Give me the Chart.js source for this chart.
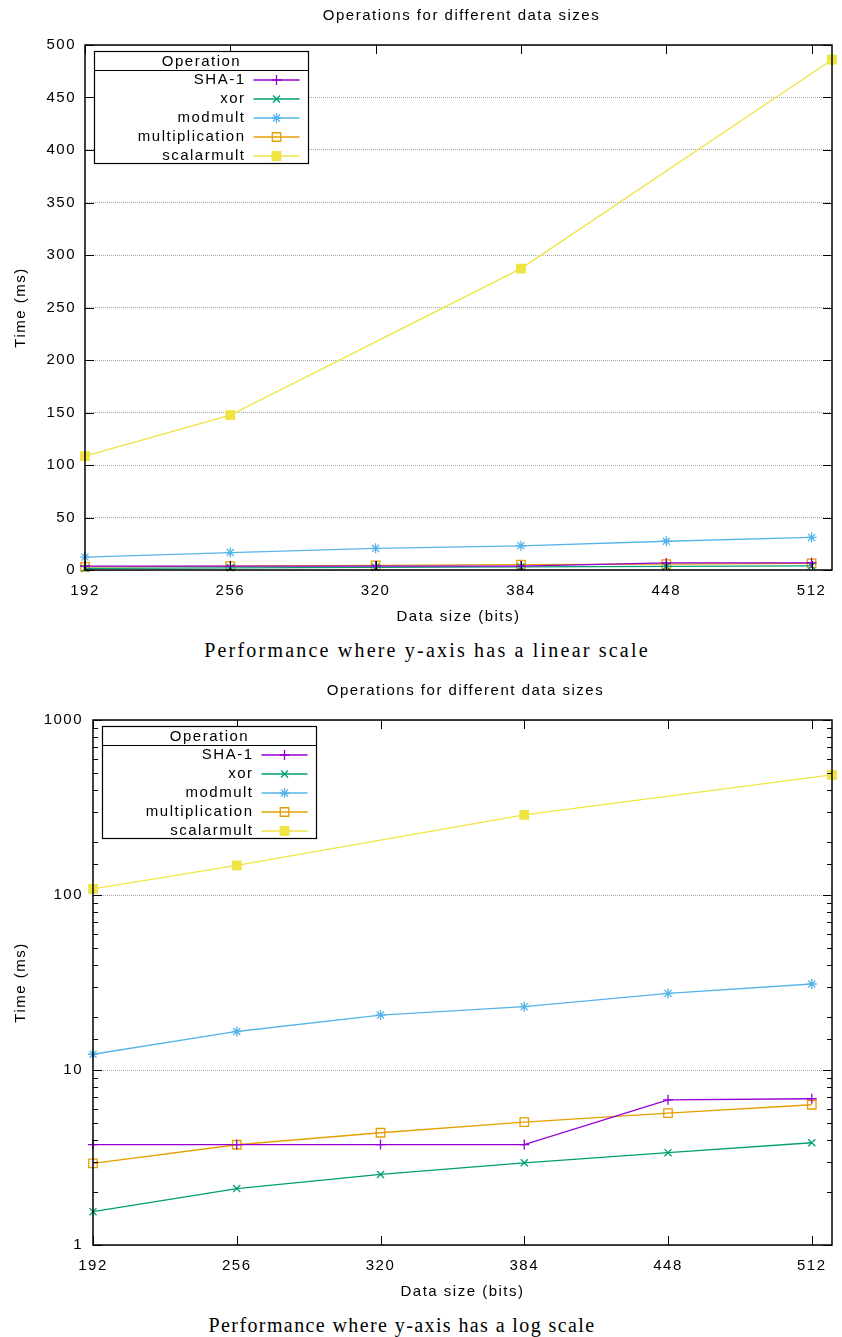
<!DOCTYPE html>
<html>
<head>
<meta charset="utf-8">
<script src="https://cdn.jsdelivr.net/npm/chart.js@4.4.1/dist/chart.umd.min.js"></script>
<style>
  body { margin: 0; background: #fff; }
  .page { position: relative; width: 842px; height: 1337px; }
  .plot { position: absolute; left: 0; width: 842px; height: 630px; }
  .caption { position: absolute; width: 842px; text-align: center;
             font-family: 'Liberation Serif', 'Times New Roman', serif; font-size: 20px;
             letter-spacing: 1.4px; line-height: 24px; color: #000; }
</style>
</head>
<body>
<div class="page">
  <div class="plot" style="top:0"><canvas id="linChart" width="842" height="630"></canvas></div>
  <div class="caption" style="top:638px; left:6px; letter-spacing:2.2px">Performance where y-axis has a linear scale</div>
  <div class="plot" style="top:675px"><canvas id="logChart" width="842" height="630"></canvas></div>
  <div class="caption" style="top:1313px; left:-19px">Performance where y-axis has a log scale</div>
</div>
<script>
// data sizes (bits); scalarmult runs on the NIST curves instead
const sizes = [192, 256, 320, 384, 448, 512];
const curveSizes = [192, 256, 384, 521];

// times in ms
const sha1 = [3.75, 3.75, 3.75, 3.75, 6.75, 6.85];
const xorTime = [1.55, 2.1, 2.53, 2.95, 3.37, 3.84];
const modmult = [12.3, 16.6, 20.6, 23.0, 27.4, 31.0];
const multiplication = [2.93, 3.74, 4.38, 5.04, 5.67, 6.33];
const scalarmult = [108.5, 147.5, 287, 486];

const names = ['SHA-1', 'xor', 'modmult', 'multiplication', 'scalarmult'];
const colors = ['#9400d3', '#009e73', '#56b4e9', '#e69f00', '#f0e442'];
const markers = ['cross', 'crossRot', 'star', 'rect', 'rect'];

// tick labels
const xTicks = [192, 256, 320, 384, 448, 512];
const linTicks = [0, 50, 100, 150, 200, 250, 300, 350, 400, 450, 500];
const logTicks = [1, 10, 100, 1000];

Chart.defaults.font.family = "'Liberation Sans', Arial, sans-serif";
Chart.defaults.font.size = 15;
Chart.defaults.color = '#000';

function pts(xs, ys) {
    return ys.map((y, i) => ({ x: xs[i], y: y }));
}

function makeDatasets() {
    const series = [[sizes, sha1], [sizes, xorTime], [sizes, modmult], [sizes, multiplication], [curveSizes, scalarmult]];
    return series.map((s, i) => ({
        label: names[i],
        data: pts(s[0], s[1]),
        borderColor: colors[i],
        backgroundColor: colors[i],
        borderWidth: 1.3,
        pointStyle: markers[i],
        pointRadius: i >= 3 ? 6 : 5,
        pointBorderWidth: 1.3,
        pointBorderColor: colors[i],
        pointBackgroundColor: i === 3 ? 'rgba(0,0,0,0)' : colors[i],
        tension: 0,
        clip: false
    }));
}

function isDecade(v) {
    const l = Math.log10(v);
    return Math.abs(l - Math.round(l)) < 1e-9;
}

// gnuplot look: full frame, inward ticks, centred title and boxed key
const gnuFrame = {
    id: 'gnuFrame',
    beforeLayout(chart) { chart.ctx.letterSpacing = '1.5px'; },
    beforeDraw(chart) { chart.ctx.letterSpacing = '1.5px'; },
    afterDatasetsDraw(chart, args, opts) {
        const { ctx, chartArea: a, scales } = chart;
        const log = scales.y.type === 'logarithmic';
        ctx.save();
        ctx.strokeStyle = '#000';
        ctx.lineWidth = 1;
        ctx.beginPath();
        scales.x.ticks.forEach(t => {
            const px = Math.round(scales.x.getPixelForValue(t.value)) + 0.5;
            ctx.moveTo(px, a.bottom); ctx.lineTo(px, a.bottom - 9);
            ctx.moveTo(px, a.top); ctx.lineTo(px, a.top + 9);
        });
        scales.y.ticks.forEach(t => {
            const py = Math.round(scales.y.getPixelForValue(t.value)) + 0.5;
            const len = !log || isDecade(t.value) ? 9 : 5;
            ctx.moveTo(a.left, py); ctx.lineTo(a.left + len, py);
            ctx.moveTo(a.right, py); ctx.lineTo(a.right - len, py);
        });
        ctx.stroke();
        ctx.lineWidth = 1.5;
        ctx.strokeRect(a.left, a.top, a.right - a.left, a.bottom - a.top);

        ctx.fillStyle = '#000';
        ctx.font = "15px 'Liberation Sans', Arial, sans-serif";
        ctx.textAlign = 'center';
        ctx.textBaseline = 'middle';
        ctx.fillText(opts.title, (a.left + a.right) / 2 + 3, 16);
        ctx.restore();
    },
    afterDraw(chart) {
        const { ctx, chartArea: a } = chart;
        const x0 = a.left + 9.5, y0 = a.top + 6.5, w = 214, h = 112;
        ctx.save();
        ctx.fillStyle = '#fff';
        ctx.fillRect(x0, y0, w, h);
        ctx.strokeStyle = '#000';
        ctx.lineWidth = 1.2;
        ctx.strokeRect(x0, y0, w, h);
        ctx.beginPath();
        ctx.moveTo(x0, y0 + 19); ctx.lineTo(x0 + w, y0 + 19);
        ctx.stroke();

        ctx.fillStyle = '#000';
        ctx.font = "15px 'Liberation Sans', Arial, sans-serif";
        ctx.textBaseline = 'middle';
        ctx.textAlign = 'center';
        ctx.fillText('Operation', x0 + w / 2, y0 + 10);
        ctx.textAlign = 'right';
        chart.data.datasets.forEach((ds, i) => {
            const y = y0 + 28.5 + i * 19;
            ctx.fillStyle = '#000';
            ctx.fillText(ds.label, x0 + 151, y);
            ctx.strokeStyle = ds.borderColor;
            ctx.lineWidth = ds.borderWidth;
            ctx.beginPath();
            ctx.moveTo(x0 + 159, y); ctx.lineTo(x0 + 205, y);
            ctx.stroke();
            ctx.fillStyle = ds.pointBackgroundColor;
            ctx.lineWidth = ds.pointBorderWidth;
            Chart.helpers.drawPoint(ctx, {
                pointStyle: ds.pointStyle, radius: ds.pointRadius, rotation: 0, borderWidth: ds.pointBorderWidth
            }, x0 + 182, y);
        });
        ctx.restore();
    }
};

function makeChart(id, log) {
    const axisWidth = log ? 93 : 85;
    return new Chart(document.getElementById(id), {
        type: 'line',
        data: { datasets: makeDatasets() },
        plugins: [gnuFrame],
        options: {
            responsive: false,
            animation: false,
            layout: { padding: { top: 45, right: 10, left: 0, bottom: 0 } },
            plugins: {
                legend: { display: false },
                tooltip: { enabled: false },
                gnuFrame: { title: 'Operations for different data sizes' }
            },
            scales: {
                x: {
                    type: 'linear',
                    min: 192,
                    max: 521,
                    afterBuildTicks: s => { s.ticks = xTicks.map(v => ({ value: v })); },
                    afterFit: s => { s.height = 60; },
                    ticks: { padding: 4, callback: v => String(v) },
                    grid: { display: false },
                    border: { display: false },
                    title: { display: true, text: 'Data size (bits)', padding: { top: 0, bottom: 4 } }
                },
                y: log ? {
                    type: 'logarithmic',
                    min: 1,
                    max: 1000,
                    afterFit: s => { s.width = axisWidth; },
                    ticks: {
                        autoSkip: false,
                        padding: 10,
                        callback: v => logTicks.includes(v) ? String(v) : ''
                    },
                    grid: {
                        drawTicks: false,
                        color: c => c.tick && isDecade(c.tick.value) ? '#a8a8a8' : 'rgba(0,0,0,0)'
                    },
                    border: { display: false, dash: [1, 1] },
                    title: { display: true, text: 'Time (ms)', padding: { top: 12, bottom: 0 } }
                } : {
                    type: 'linear',
                    min: 0,
                    max: 500,
                    afterBuildTicks: s => { s.ticks = linTicks.map(v => ({ value: v })); },
                    afterFit: s => { s.width = axisWidth; },
                    ticks: { autoSkip: false, padding: 9, callback: v => String(v) },
                    grid: { drawTicks: false, color: '#a8a8a8' },
                    border: { display: false, dash: [1, 1] },
                    title: { display: true, text: 'Time (ms)', padding: { top: 12, bottom: 0 } }
                }
            }
        }
    });
}

makeChart('linChart', false);
makeChart('logChart', true);
</script>
</body>
</html>
